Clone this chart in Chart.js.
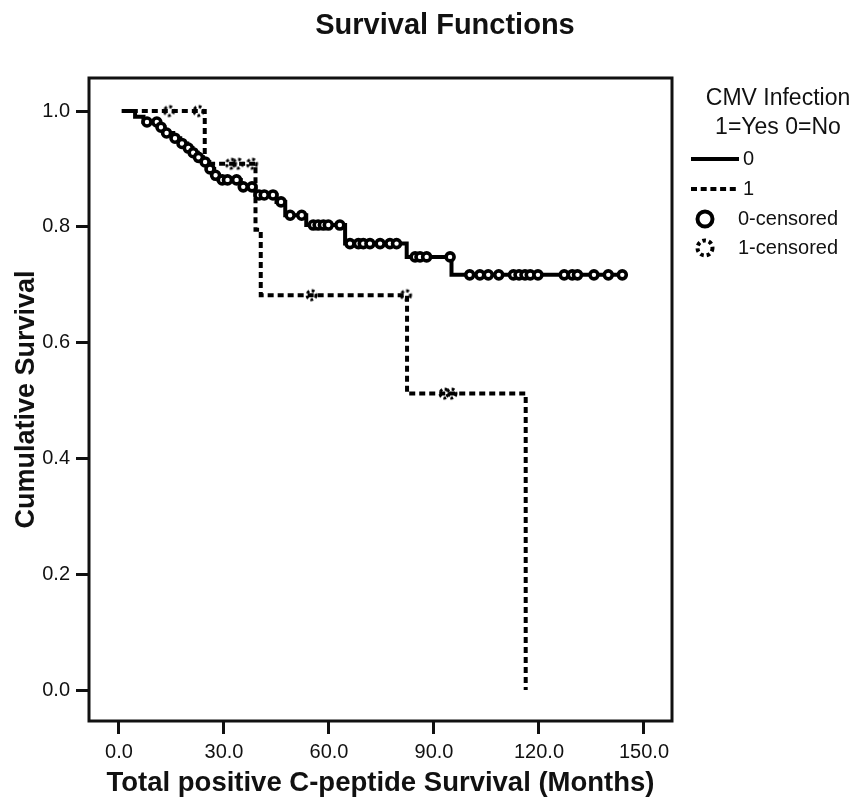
<!DOCTYPE html>
<html>
<head>
<meta charset="utf-8">
<style>
  html, body { margin: 0; padding: 0; background: #ffffff; }
  #wrap { position: relative; width: 855px; height: 798px; }
</style>
<script src="https://cdn.jsdelivr.net/npm/chart.js@4/dist/chart.umd.min.js"></script>
</head>
<body>
<div id="wrap"><canvas id="c" width="855" height="798"></canvas></div>
<script>
// ---- Data ----
const chartTitle = "Survival Functions";
const xAxisTitle = "Total positive C-peptide Survival (Months)";
const yAxisTitle = "Cumulative Survival";
const legendTitle = ["CMV Infection", "1=Yes 0=No"];
const seriesNames = ["0", "1", "0-censored", "1-censored"];

const xTickValues = [0, 30, 60, 90, 120, 150];
const yTickValues = [0.0, 0.2, 0.4, 0.6, 0.8, 1.0];

// Group 0 (CMV = No): step points (time, survival after step)
const group0Times = [0.8, 4.6, 7.0, 11.5, 13.0, 15.5, 17.5, 19.5, 21.0, 22.5, 24.0, 25.8, 27.2, 28.5, 34.8, 39.0, 45.0, 47.5, 53.5, 64.6, 82.2, 95.0, 144.5];
const group0Surv  = [1.0, 0.990, 0.981, 0.972, 0.962, 0.953, 0.944, 0.936, 0.928, 0.920, 0.912, 0.900, 0.889, 0.881, 0.869, 0.855, 0.843, 0.820, 0.803, 0.771, 0.748, 0.717, 0.717];
// Group 0 censored observations
const group0CensTimes = [8.0, 10.8, 12.0, 13.6, 16.0, 18.0, 19.8, 21.2, 22.7, 24.6, 26.0, 27.6, 29.5, 31.0, 33.6, 35.5, 38.0, 40.0, 41.5, 44.0, 46.3, 48.9, 52.2, 55.5, 56.9, 58.4, 59.8, 63.1, 66.0, 68.4, 69.8, 71.7, 74.6, 77.4, 79.3, 84.6, 86.0, 87.9, 94.6, 100.2, 103.1, 105.5, 108.5, 112.7, 114.3, 116.0, 117.5, 119.7, 127.2, 129.5, 131.0, 135.7, 139.8, 143.8];
const group0CensSurv  = [0.981, 0.981, 0.972, 0.962, 0.953, 0.944, 0.936, 0.928, 0.920, 0.912, 0.900, 0.889, 0.881, 0.881, 0.881, 0.869, 0.869, 0.855, 0.855, 0.855, 0.843, 0.820, 0.820, 0.803, 0.803, 0.803, 0.803, 0.803, 0.771, 0.771, 0.771, 0.771, 0.771, 0.771, 0.771, 0.748, 0.748, 0.748, 0.748, 0.717, 0.717, 0.717, 0.717, 0.717, 0.717, 0.717, 0.717, 0.717, 0.717, 0.717, 0.717, 0.717, 0.717, 0.717];

// Group 1 (CMV = Yes): step points
const group1Times = [0.8, 24.5, 39.0, 40.5, 82.3, 116.2];
const group1Surv  = [1.0, 0.909, 0.795, 0.682, 0.512, 0.0];
// Group 1 censored observations
const group1CensTimes = [14.3, 22.7, 32.0, 34.0, 38.0, 55.0, 82.0, 93.0, 95.0];
const group1CensSurv  = [1.0, 1.0, 0.909, 0.909, 0.909, 0.682, 0.682, 0.512, 0.512];

// ---- helpers ----
const toPts = (xs, ys) => xs.map((x, i) => ({ x: x, y: ys[i] }));

function makeDottedRing(r, lw, dash) {
  const s = Math.ceil(2 * (r + lw)) + 2;
  const cv = document.createElement('canvas');
  cv.width = s; cv.height = s;
  const g = cv.getContext('2d');
  g.strokeStyle = '#000';
  g.lineWidth = lw;
  g.setLineDash(dash);
  g.beginPath();
  g.arc(s / 2, s / 2, r, 0, Math.PI * 2);
  g.stroke();
  return cv;
}
const dottedRing = makeDottedRing(4.5, 3, [2.8, 2.4]);

const FONT = "'Liberation Sans', Arial, sans-serif";

const framePlugin = {
  id: 'frame',
  afterDatasetsDraw(chart) {
    const { ctx, chartArea: a } = chart;
    ctx.save();
    ctx.strokeStyle = '#111';
    ctx.lineWidth = 3;
    ctx.strokeRect(a.left, a.top, a.right - a.left, a.bottom - a.top);
    ctx.restore();
  }
};

const titleAndLegendPlugin = {
  id: 'titleAndLegend',
  afterDraw(chart) {
    const ctx = chart.ctx;
    ctx.save();
    ctx.fillStyle = '#111';
    ctx.textBaseline = 'middle';
    ctx.font = "bold 29px " + FONT;
    ctx.textAlign = 'center';
    ctx.fillText(chartTitle, 445, 26);

    ctx.font = "23px " + FONT;
    ctx.fillText(legendTitle[0], 778, 99);
    ctx.fillText(legendTitle[1], 778, 128);

    ctx.font = "20px " + FONT;
    ctx.textAlign = 'left';
    ctx.strokeStyle = '#000';
    ctx.lineWidth = 4;
    ctx.setLineDash([]);
    ctx.beginPath(); ctx.moveTo(691, 159); ctx.lineTo(739, 159); ctx.stroke();
    ctx.fillText(seriesNames[0], 743, 159);
    ctx.setLineDash([6, 3.7]);
    ctx.beginPath(); ctx.moveTo(691, 189); ctx.lineTo(739, 189); ctx.stroke();
    ctx.setLineDash([]);
    ctx.fillText(seriesNames[1], 743, 189);
    ctx.lineWidth = 4;
    ctx.beginPath(); ctx.arc(705, 219, 7.5, 0, Math.PI * 2); ctx.stroke();
    ctx.fillText(seriesNames[2], 738, 219);
    ctx.setLineDash([3.5, 3]);
    ctx.beginPath(); ctx.arc(705, 248, 7.5, 0, Math.PI * 2); ctx.stroke();
    ctx.setLineDash([]);
    ctx.fillText(seriesNames[3], 738, 248);
    ctx.restore();
  }
};

new Chart(document.getElementById('c'), {
  type: 'line',
  data: {
    datasets: [
      {
        label: seriesNames[2],
        type: 'scatter',
        data: toPts(group0CensTimes, group0CensSurv),
        showLine: false,
        pointStyle: 'circle',
        pointRadius: 4,
        pointBorderWidth: 3.6,
        pointBorderColor: '#000',
        pointBackgroundColor: '#fff',
        order: 0
      },
      {
        label: seriesNames[3],
        type: 'scatter',
        data: toPts(group1CensTimes, group1CensSurv),
        showLine: false,
        pointStyle: dottedRing,
        pointRadius: 5,
        order: 0
      },
      {
        label: seriesNames[0],
        data: toPts(group0Times, group0Surv),
        stepped: true,
        borderColor: '#000',
        borderWidth: 4,
        pointRadius: 0,
        fill: false,
        order: 1
      },
      {
        label: seriesNames[1],
        data: toPts(group1Times, group1Surv),
        stepped: true,
        borderColor: '#000',
        borderWidth: 4,
        borderDash: [6, 4],
        pointRadius: 0,
        fill: false,
        order: 1
      }
    ]
  },
  options: {
    responsive: false,
    animation: false,
    devicePixelRatio: 1,
    layout: { padding: { left: 33, right: 183, top: 78, bottom: 0 } },
    plugins: {
      legend: { display: false },
      tooltip: { enabled: false },
      title: { display: false }
    },
    scales: {
      x: {
        type: 'linear',
        min: -8.57,
        max: 158,
        afterFit(scale) { scale.height = 77; },
        afterBuildTicks(scale) { scale.ticks = xTickValues.map(v => ({ value: v })); },
        grid: { drawOnChartArea: false, drawTicks: true, tickLength: 13, tickWidth: 3, tickColor: '#111' },
        border: { display: false },
        ticks: {
          color: '#111',
          padding: 6,
          maxRotation: 0,
          font: { family: FONT, size: 20, lineHeight: 1.2 },
          callback: v => Number(v).toFixed(1)
        },
        title: {
          display: true,
          text: xAxisTitle,
          color: '#111',
          font: { family: FONT, size: 27.5, weight: 'bold', lineHeight: 1 },
          padding: { top: 0, bottom: 0.5 }
        }
      },
      y: {
        type: 'linear',
        min: -0.0535,
        max: 1.057,
        afterFit(scale) { scale.width = 56; },
        afterBuildTicks(scale) { scale.ticks = yTickValues.map(v => ({ value: v })); },
        grid: { drawOnChartArea: false, drawTicks: true, tickLength: 13, tickWidth: 3, tickColor: '#111' },
        border: { display: false },
        ticks: {
          color: '#111',
          padding: 6,
          font: { family: FONT, size: 20, lineHeight: 1.2 },
          callback: v => Number(v).toFixed(1)
        },
        title: {
          display: true,
          text: yAxisTitle,
          color: '#111',
          font: { family: FONT, size: 27, weight: 'bold', lineHeight: 1 },
          padding: { top: -19.5, bottom: 0 }
        }
      }
    }
  },
  plugins: [framePlugin, titleAndLegendPlugin]
});
</script>
</body>
</html>
